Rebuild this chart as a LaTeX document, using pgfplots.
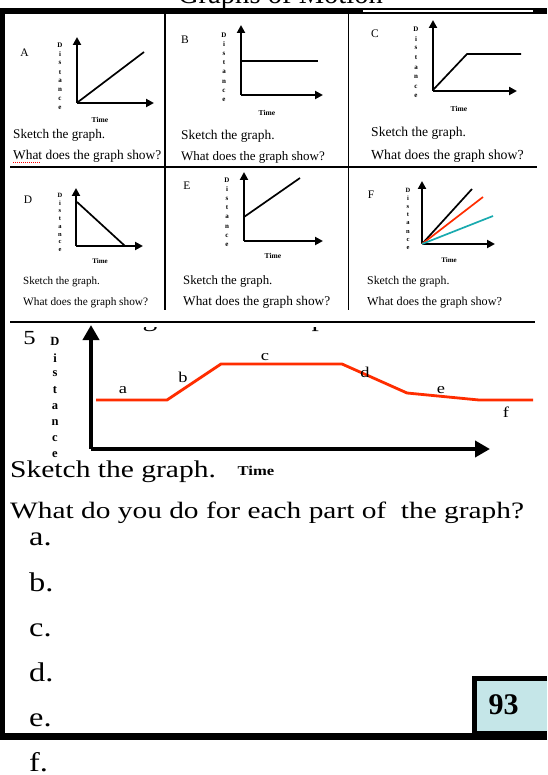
\documentclass[border=0pt]{standalone}
\usepackage{fontspec}
\setmainfont{Liberation Serif}
\usepackage{graphicx}
\usepackage{pgfplots}
\pgfplotsset{compat=1.18}
\usetikzlibrary{arrows.meta}

\definecolor{seg}{RGB}{255,45,0}
\definecolor{tealline}{RGB}{25,170,175}
\definecolor{pagebox}{RGB}{197,230,232}

\newcommand\fs[1]{\fontsize{#1}{#1}\selectfont}
% stacked "Distance" label: x, y of the D, step, font size
\newcommand\dist[4]{%
  \foreach \c [count=\i from 0] in {D,i,s,t,a,n,c,e}
    \node[font=\bfseries\fs{#4}, inner sep=0pt] at (#1,{-#2-\i*#3}) {\c};}

\pgfplotsset{
  mini/.style={scale only axis, axis lines=left, xmin=0, ymin=0,
    enlargelimits=false, xtick=\empty, ytick=\empty, clip=false,
    anchor=origin,
    axis line style={line width=2.6pt, -{Triangle[length=8pt,width=8pt]}}},
  ln/.style={black, line width=1.7pt, mark=none},
}

\begin{document}
\begin{tikzpicture}[x=1pt,y=1pt]
\path[use as bounding box] (0,0) rectangle (547,-775);
\clip (0,0) rectangle (547,-775);
\fill[white] (0,0) rectangle (547,-775);

% title, mostly cut off by the top of the page
\node[anchor=base, font=\fs{28.6}, inner sep=0pt] at (280.5,-4) {Graphs of Motion};

% frame
\fill[black] (0,-8) rectangle (547,-14);
\fill[white] (363,-10) rectangle (533,-12.3);
\fill[black] (0,-8) rectangle (5,-740);
\fill[black] (0,-733) rectangle (547,-740);
\draw[line width=1.4pt] (10,-167) -- (537,-167);
\draw[line width=1.4pt] (10,-322) -- (535,-322);
\draw[line width=1.3pt] (165,-14) -- (165,-310);
\draw[line width=1.3pt] (348.5,-14) -- (348.5,-310);

% ---------- row 1 ----------
\node[font=\fs{11.5}, inner sep=0pt] at (24.5,-52.5) {A};
\node[font=\fs{11.5}, inner sep=0pt] at (185,-40) {B};
\node[font=\fs{11.5}, inner sep=0pt] at (375,-34) {C};
\dist{60}{45}{9.04}{7}
\dist{224}{35}{9.3}{7}
\dist{416}{29}{9.6}{7}
\node[font=\bfseries\fs{7.5}, inner sep=0pt] at (100,-120) {Time};
\node[font=\bfseries\fs{7.5}, inner sep=0pt] at (267,-113) {Time};
\node[font=\bfseries\fs{7.5}, inner sep=0pt] at (459,-109) {Time};

\begin{axis}[mini, at={(77pt,-103pt)}, width=77pt, height=66pt, xmax=77, ymax=66]
\addplot[ln] coordinates {(1,1) (67,51)};
\end{axis}
\begin{axis}[mini, at={(241pt,-95pt)}, width=82pt, height=70pt, xmax=82, ymax=70]
\addplot[ln] coordinates {(1,34) (77,34)};
\end{axis}
\begin{axis}[mini, at={(433pt,-91pt)}, width=84pt, height=71pt, xmax=84, ymax=71]
\addplot[ln] coordinates {(0,1) (34,37) (88,37)};
\end{axis}

\node[anchor=base west, font=\fs{13.2}, inner sep=0pt] at (13,-139) {Sketch the graph.};
\node[anchor=base west, font=\fs{13.4}, inner sep=0pt] at (13,-160) {What does the graph show?};
\draw[red, line width=0.7pt, dash pattern=on 1pt off 1pt] (13,-162.5) -- (40,-162.5);
\node[anchor=base west, font=\fs{13.4}, inner sep=0pt] at (181,-140) {Sketch the graph.};
\node[anchor=base west, font=\fs{13}, inner sep=0pt] at (181,-161) {What does the graph show?};
\node[anchor=base west, font=\fs{13.6}, inner sep=0pt] at (371,-137) {Sketch the graph.};
\node[anchor=base west, font=\fs{13.8}, inner sep=0pt] at (371,-160) {What does the graph show?};

% ---------- row 2 ----------
\node[font=\fs{11.5}, inner sep=0pt] at (28,-200) {D};
\node[font=\fs{11.5}, inner sep=0pt] at (187,-186) {E};
\node[font=\fs{11.5}, inner sep=0pt] at (371,-194.5) {F};
\dist{60}{195}{7.9}{6.5}
\dist{227}{180}{9.3}{7}
\dist{408}{190}{8.3}{6.5}
\node[font=\bfseries\fs{7}, inner sep=0pt] at (100,-261) {Time};
\node[font=\bfseries\fs{7.5}, inner sep=0pt] at (273,-256) {Time};
\node[font=\bfseries\fs{7}, inner sep=0pt] at (449,-260) {Time};

\begin{axis}[mini, at={(76pt,-246pt)}, width=67pt, height=58pt, xmax=67, ymax=58]
\addplot[ln] coordinates {(1,44) (49,0)};
\end{axis}
\begin{axis}[mini, at={(244pt,-241pt)}, width=79pt, height=69pt, xmax=79, ymax=69]
\addplot[ln] coordinates {(0,24) (56,63)};
\end{axis}
\begin{axis}[mini, at={(422pt,-244pt)}, width=73pt, height=63pt, xmax=73, ymax=63]
\addplot[ln] coordinates {(0,0) (50,55)};
\addplot[ln, color=seg] coordinates {(0,0) (61,47)};
\addplot[ln, color=tealline] coordinates {(0,0) (71,28)};
\end{axis}

\node[anchor=base west, font=\fs{11}, inner sep=0pt] at (23,-284) {Sketch the graph.};
\node[anchor=base west, font=\fs{11.3}, inner sep=0pt] at (23,-305) {What does the graph show?};
\node[anchor=base west, font=\fs{12.8}, inner sep=0pt] at (183,-284.5) {Sketch the graph.};
\node[anchor=base west, font=\fs{13.3}, inner sep=0pt] at (183,-305) {What does the graph show?};
\node[anchor=base west, font=\fs{11.8}, inner sep=0pt] at (367,-284) {Sketch the graph.};
\node[anchor=base west, font=\fs{12.2}, inner sep=0pt] at (367,-305) {What does the graph show?};

% ---------- part 5 ----------
\begin{scope}
\clip (100,-327) rectangle (400,-340);
\node[anchor=base, font=\fs{24}, inner sep=0pt] at (150,-326) {\scalebox{1.23}[1]{g}};
\node[anchor=base, font=\fs{24}, inner sep=0pt] at (319,-326) {\scalebox{1.23}[1]{p}};
\end{scope}
\node[font=\fs{20}, inner sep=0pt] at (29.5,-338.5) {\scalebox{1.23}[1]{5}};
\dist{55}{341.7}{16.2}{12.5}

\begin{axis}[mini, at={(91pt,-449pt)}, width=399pt, height=124pt, xmax=399, ymax=124,
  axis line style={line width=3.8pt, -{Triangle[length=15pt,width=16pt]}}]
\addplot[seg, line width=2.8pt, mark=none] coordinates {
  (5,49) (76,49) (130,85) (251,85) (316,56) (388,49) (442,49)};
\end{axis}

\foreach \t/\x/\y in {a/123/390, b/183/377, c/265/357, d/365/372, e/441/390, f/506/412}
  \node[font=\fs{15}, inner sep=0pt] at (\x,-\y) {\scalebox{1.23}[1]{\t}};

\node[anchor=base west, font=\fs{24}, inner sep=0pt] at (10,-477) {\scalebox{1.23}[1]{Sketch the graph.}};
\node[font=\bfseries\fs{13.5}, inner sep=0pt] at (256,-471) {\scalebox{1.23}[1]{Time}};
\node[anchor=base west, font=\fs{23.5}, inner sep=0pt] at (10,-518)
  {\scalebox{1.25}[1]{What do you do for each part of\ \ the graph?}};
\foreach \t/\y in {a/545, b/591, c/636, d/681, e/726, f/771}
  \node[anchor=base west, font=\fs{27}, inner sep=0pt] at (29,-\y) {\scalebox{1.2}[1]{\t.}};

% page number box
\fill[black] (472,-676) rectangle (547,-740);
\fill[pagebox] (477,-681) rectangle (547,-731);
\node[font=\bfseries\fs{30}, inner sep=0pt] at (503.5,-705) {93};
\end{tikzpicture}
\end{document}
